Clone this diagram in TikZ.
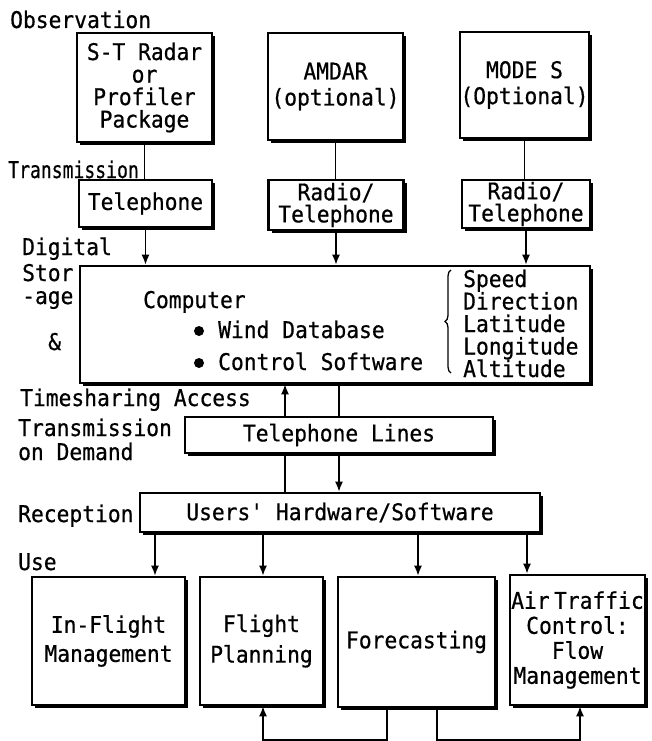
\documentclass[tikz,border=0pt]{standalone}
\usepackage{fontspec}
\setmonofont[FakeStretch=0.925,FakeBold=0.6]{DejaVu Sans Mono}
\usetikzlibrary{arrows.meta,shadows,decorations.pathreplacing}
\begin{document}
\begin{tikzpicture}[x=1pt,y=-1pt,
  every node/.style={font=\ttfamily\fontsize{23}{22}\selectfont, inner sep=0pt},
  box/.style={draw, line width=2.6pt, fill=white, align=center,
    drop shadow={shadow xshift=3pt, shadow yshift=-3pt, fill=black, opacity=1}},
  lbl/.style={anchor=base west},
  conn/.style={line width=1.6pt},
  arr/.style={conn, -{Latex[length=10pt,width=8pt]}},
]
\fill[white] (0,0) rectangle (651,741);
\useasboundingbox (0,0) rectangle (651,741);

% side labels
\node[lbl] (lobs) at (10,28) {Observation};
\node[lbl] (ltr) at (8,178) {\scalebox{0.85}[1]{Transmission}};
\node[lbl] (ldig) at (22,255) {Digital};
\node[lbl] (lsto) at (22,281) {Stor};
\node[lbl] (lage) at (22,304) {-age};
\node[lbl] (lamp) at (48,350) {\&};
\node[lbl] (lts) at (20,406) {Timesharing Access};
\node[lbl] (ltod) at (18,436) {Transmission};
\node[lbl] (lond) at (18,460) {on Demand};
\node[lbl] (lrec) at (18,522) {Reception};
\node[lbl] (luse) at (18,570) {Use};

% observation boxes
\node[box, minimum width=135pt, minimum height=109pt, font=\ttfamily\fontsize{23}{22.5}\selectfont] (st) at (144.5,87.5) {S-T Radar\\or\\Profiler\\Package};
\node[box, minimum width=135pt, minimum height=107pt] (amdar) at (335.5,86.5) {AMDAR\\[4pt](optional)};
\node[box, minimum width=129pt, minimum height=106pt] (modes) at (524.5,85) {MODE S\\[4pt](Optional)};

% transmission boxes
\node[box, minimum width=133pt, minimum height=47pt] (tel1) at (145.5,203.5) {Telephone};
\node[box, minimum width=135pt, minimum height=50pt] (rt2) at (336,205) {Radio/\\Telephone};
\node[box, minimum width=128pt, minimum height=48pt] (rt3) at (526,204) {Radio/\\Telephone};

% computer
\node[box, minimum width=510pt, minimum height=117pt] (comp) at (335,324.5) {};
\node[lbl] (tcomp) at (143,308) {Computer};
\fill (199,331) circle (5pt);
\fill (199,363) circle (5pt);
\node[lbl] (twind) at (218,338) {Wind Database};
\node[lbl] (tctrl) at (218,370) {Control Software};
\draw[line width=1.3pt, decorate, decoration={brace, amplitude=6pt}] (451,373) -- (451,270);
\node[lbl] (tspd) at (463,287) {Speed};
\node[lbl] (tdir) at (463,309.5) {Direction};
\node[lbl] (tlat) at (463,332) {Latitude};
\node[lbl] (tlon) at (463,354.5) {Longitude};
\node[lbl] (talt) at (463,377) {Altitude};

% telephone lines, users
\node[box, minimum width=308pt, minimum height=36pt] (tl) at (339,435) {Telephone Lines};
\node[box, minimum width=400pt, minimum height=39pt] (users) at (340,512.5) {Users' Hardware/Software};

% use boxes
\node[box, minimum width=153pt, minimum height=128pt] (ifm) at (108.5,641) {In-Flight\\[7pt]Management};
\node[box, minimum width=123pt, minimum height=128pt] (fp) at (261.5,641) {Flight\\[7pt]Planning};
\node[box, minimum width=157pt, minimum height=130pt] (fc) at (416.5,642) {Forecasting};
\node[box, minimum width=135pt, minimum height=130pt, font=\ttfamily\fontsize{23}{25}\selectfont] (atc) at (577.5,640) {Air{\fontsize{8}{8}\selectfont\ }Traffic\\Control:\\Flow\\Management};

% connectors
\draw[conn] (st.south) -- (st.south |- tel1.north);
\draw[arr] (tel1.south) -- (tel1.south |- comp.north);
\draw[conn] (amdar.south) -- (amdar.south |- rt2.north);
\draw[arr] (rt2.south) -- (rt2.south |- comp.north);
\draw[conn] (modes.south) -- (modes.south |- rt3.north);
\draw[arr] (rt3.south) -- (rt3.south |- comp.north);

\coordinate (tsx) at (285,0);
\draw[conn] (tl.north) -- (tl.north |- comp.south);
\draw[arr] (tsx |- tl.north) -- (tsx |- comp.south);
\draw[conn] (tsx |- tl.south) -- (tsx |- users.north);
\draw[arr] (tl.south) -- (tl.south |- users.north);

\coordinate (u1) at (155,0);
\coordinate (u2) at (263,0);
\coordinate (u3) at (418,0);
\coordinate (u4) at (527,0);
\draw[arr] (u1 |- users.south) -- (u1 |- ifm.north);
\draw[arr] (u2 |- users.south) -- (u2 |- fp.north);
\draw[arr] (u3 |- users.south) -- (u3 |- fc.north);
\draw[arr] (u4 |- users.south) -- (u4 |- atc.north);

\coordinate (b1) at (387,740);
\coordinate (b2) at (437,740);
\coordinate (b3) at (263,740);
\coordinate (b4) at (580,740);
\draw[arr] (b1 |- fc.south) -- (b1) -- (b3) -- (b3 |- fp.south);
\draw[arr] (b2 |- fc.south) -- (b2) -- (b4) -- (b4 |- atc.south);
\end{tikzpicture}
\end{document}
